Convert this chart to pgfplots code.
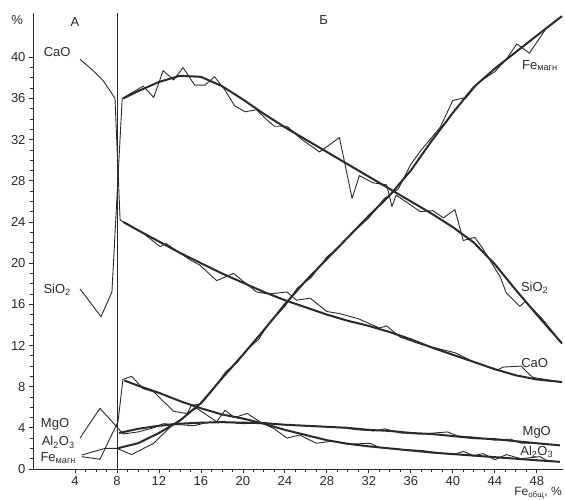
\documentclass[border=0pt]{standalone}
\usepackage{pgfplots}
\pgfplotsset{compat=1.18}
\usepackage{fontspec}
\setmainfont{Liberation Sans}
\definecolor{ink}{HTML}{2A2A2A}

\pgfplotstableread{
x y
4.48 17.5
6.48 14.8
7.52 17.2
8.5 36.0
10.5 37.2
11.5 36.1
12.4 38.7
13.4 37.8
14.3 39.0
15.4 37.3
16.4 37.3
17.3 38.1
18.3 36.8
19.2 35.3
20.2 34.7
21.3 34.9
22.3 33.9
23.0 33.3
24.2 33.3
25.5 32.1
27.3 30.8
29.2 32.2
30.4 26.3
31.1 28.5
32.4 27.8
33.7 27.6
34.2 25.5
34.6 26.6
35.2 26.2
36.9 25.0
38.1 25.1
39.1 24.4
40.2 25.2
41.0 22.2
42.1 22.5
42.8 21.5
44.5 18.7
45.1 17.1
46.4 15.8
46.9 16.3
48.6 14.5
50.4 12.2
}\sioraw

\pgfplotstableread{
x y
8.6 36.0
10 36.7
12 37.6
14 38.2
16 38.1
18 37.2
20 35.9
22 34.5
24 33.2
26 32.0
28 30.8
30 29.6
32 28.4
34 27.2
36 26.0
38 24.8
40 23.5
42 22.0
44 19.9
46 17.4
48 15.0
50.4 12.2
}\siotrend

\pgfplotstableread{
x y
4.48 39.8
5.74 38.7
6.70 37.7
7.50 36.5
7.81 36.0
8.3 24.2
8.6 24.0
10.5 22.9
12.1 21.6
12.7 21.9
13.4 21.4
15.0 20.3
15.9 19.8
17.5 18.3
19.1 19.0
21.3 17.2
22.5 17.0
24.2 17.2
25.1 16.4
26.4 16.6
28.0 15.3
29.2 15.1
31.0 14.6
33.0 13.7
33.7 13.9
35.0 12.8
37.0 12.1
39.0 11.6
40.2 11.3
42.0 10.4
44.2 9.6
44.8 9.9
46.5 10.0
47.6 8.9
50.4 8.45
}\caoraw

\pgfplotstableread{
x y
8.6 24.0
10 23.2
12 22.1
14 21.0
16 20.0
18 19.0
20 18.1
22 17.2
24 16.4
26 15.7
28 15.0
30 14.4
32 13.9
34 13.3
36 12.6
38 11.8
40 11.1
42 10.4
44 9.7
46 9.1
48 8.7
50.4 8.45
}\caotrend

\pgfplotstableread{
x y
4.64 1.36
6.86 2.0
8.0 2.0
9.4 1.4
11.5 2.5
13.2 4.2
14.6 5.2
15.1 6.2
16.0 6.3
17.0 7.5
18.4 9.5
19.5 10.4
20.4 11.6
21.5 12.6
22.5 14.2
24.0 15.8
25.2 17.6
26.5 18.6
28.0 20.6
29.2 21.6
30.5 23.0
32.0 24.4
33.5 26.3
34.8 27.2
36.0 29.6
37.0 31.0
38.8 33.2
40.0 35.8
41.3 36.1
42.5 37.6
44.0 38.6
45.1 39.8
46.1 41.3
47.3 40.4
48.9 42.8
50.4 44.0
}\feraw

\pgfplotstableread{
x y
8 2.0
10 2.5
12 3.5
14 4.7
16 6.4
18 8.8
20 11.1
22 13.5
24 16.0
26 18.3
28 20.4
30 22.5
32 24.6
34 26.6
36 29.0
38 31.9
40 34.6
42 37.1
44 38.9
46 40.5
48 42.1
50.4 44.0
}\fetrend

\pgfplotstableread{
x y
4.48 3.0
6.38 5.9
7.8 4.3
8.6 3.4
10 3.6
11.5 4.0
12.4 4.4
14 4.3
15.3 4.2
16.5 4.5
18 4.6
20 4.4
22 4.5
24 4.3
26 4.2
28 4.1
29.5 4.0
31 3.8
32.5 3.7
33.5 3.9
35 3.5
37 3.4
39.5 3.6
40.5 3.2
42 3.1
44 2.8
45.5 2.9
46.5 2.5
48 2.5
50.2 2.3
}\mgoraw

\pgfplotstableread{
x y
8.2 3.5
10 3.9
12 4.2
14 4.4
16 4.5
18 4.55
20 4.5
22 4.45
24 4.3
26 4.2
28 4.1
30 4.0
32 3.8
34 3.7
36 3.5
38 3.4
40 3.2
42 3.0
44 2.9
46 2.7
48 2.5
50.2 2.3
}\mgotrend

\pgfplotstableread{
x y
4.64 1.2
6.38 0.94
8.1 4.6
8.57 8.7
9.4 9.0
10.5 7.8
11.5 7.5
13.4 5.6
14.6 5.4
15.6 5.9
17.5 4.6
18.3 5.7
19.2 5.0
20.4 5.4
21.6 4.6
23.0 3.9
24.2 3.0
25.4 3.3
27.0 2.5
28.5 2.7
30.0 2.4
32.1 2.5
33.0 2.1
35.0 1.9
37.0 1.8
38.8 1.55
40.0 1.4
41.0 1.7
42.0 1.3
42.9 1.5
44.0 0.9
45.1 1.4
46.5 1.0
48.3 1.2
49.0 0.8
50.2 0.7
}\alraw

\pgfplotstableread{
x y
8.7 8.6
10 8.1
12 7.4
14 6.6
16 5.9
18 5.3
20 4.9
22 4.4
24 3.8
26 3.3
28 2.8
30 2.45
32 2.2
34 2.0
36 1.8
38 1.6
40 1.45
42 1.3
44 1.15
46 1.0
48 0.85
50.2 0.7
}\altrend

\begin{document}
\begin{tikzpicture}
\begin{axis}[
    scale only axis,
    width=530pt, height=456pt,
    xmin=0, xmax=50.5,
    ymin=0, ymax=44.3,
    axis lines=left,
    axis line style={ink, line width=0.9pt, -},
    xtick={4,8,...,48},
    ytick={0,4,...,40},
    minor x tick num=3,
    minor y tick num=3,
    tick align=outside,
    major tick length=4pt,
    minor tick length=3pt,
    tick style={ink, line width=0.8pt},
    ticklabel style={font=\fontsize{13}{15}\selectfont, text=ink},
    /pgf/number format/assume math mode=true,
    clip=false,
    every axis plot/.append style={ink, line join=round},
    raw/.style={line width=0.9pt},
    trend/.style={line width=2pt},
]
\addplot[line width=0.9pt] coordinates {(8,0) (8,44.3)};

\addplot[raw] table {\sioraw};
\addplot[trend] table {\siotrend};
\addplot[raw] table {\caoraw};
\addplot[trend] table {\caotrend};
\addplot[raw] table {\feraw};
\addplot[trend] table {\fetrend};
\addplot[raw] table {\mgoraw};
\addplot[trend] table {\mgotrend};
\addplot[raw] table {\alraw};
\addplot[trend] table {\altrend};

\begin{scope}[every node/.style={font=\fontsize{13}{15}\selectfont, text=ink, inner sep=0pt}]
\node at (axis cs:-1.5,43.6) {\%};
\node at (axis cs:4.0,43.4) {А};
\node at (axis cs:27.7,43.6) {Б};
\node at (axis cs:2.3,40.5) {CaO};
\node at (axis cs:2.3,17.4) {SiO\textsubscript{2}};
\node at (axis cs:2.1,4.3) {MgO};
\node at (axis cs:2.4,2.6) {Al\textsubscript{2}O\textsubscript{3}};
\node at (axis cs:2.4,1.1) {Fe\textsubscript{магн}};
\node at (axis cs:48.3,39.2) {Fe\textsubscript{магн}};
\node at (axis cs:47.8,17.6) {SiO\textsubscript{2}};
\node at (axis cs:47.8,10.3) {CaO};
\node at (axis cs:48.0,3.6) {MgO};
\node at (axis cs:48.0,1.65) {Al\textsubscript{2}O\textsubscript{3}};
\node[anchor=base east, font=\fontsize{12}{14}\selectfont] at (axis cs:50.4,-2.6) {Fe\textsubscript{общ}, \%};
\end{scope}
\end{axis}
\pgfresetboundingbox
\path (-33pt,-30pt) rectangle (532pt,469pt);
\end{tikzpicture}
\end{document}
